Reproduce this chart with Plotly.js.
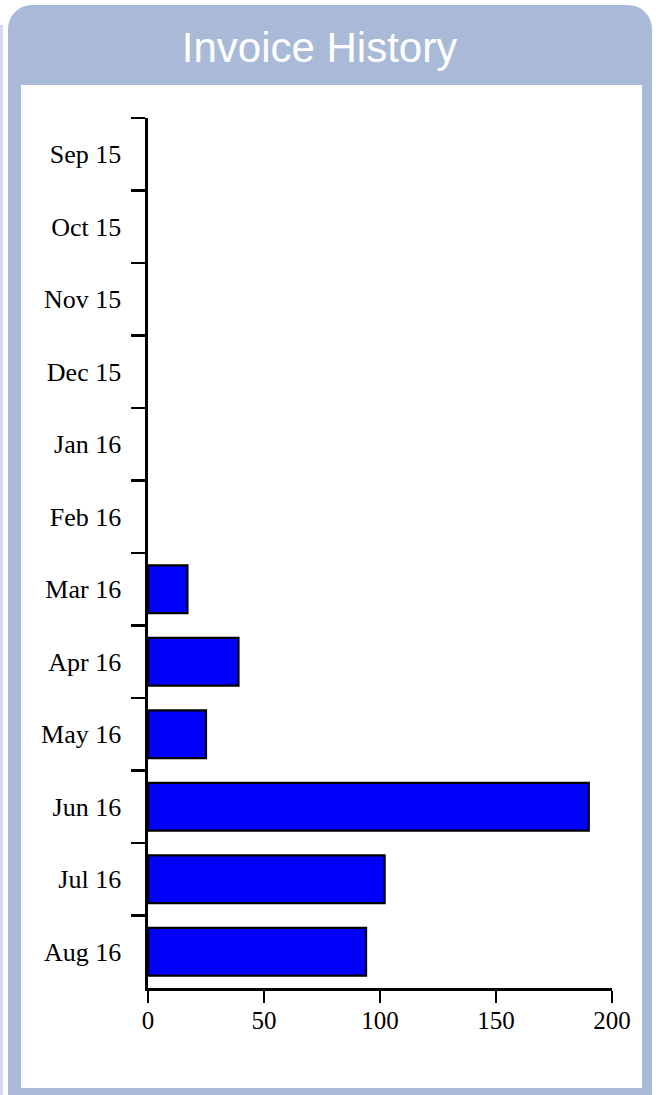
<!DOCTYPE html>
<html>
<head>
<meta charset="utf-8">
<script src="https://cdn.plot.ly/plotly-3.0.1.min.js"></script>
<style>
  html, body { margin: 0; padding: 0; width: 656px; height: 1095px; overflow: hidden; background: #ffffff; }
  #strip { position: absolute; left: 0px; top: 25px; width: 3px; height: 1070px; background: #d3dbeb; }
  #panel { position: absolute; left: 8px; top: 5px; width: 644px; height: 1090px; background: #a9bad8; border-radius: 24px 24px 0 0; }
  #inner { position: absolute; left: 21px; top: 85px; width: 621px; height: 1003px; background: #ffffff; }
  #chart { position: absolute; left: 0; top: 0; width: 656px; height: 1095px; }
</style>
</head>
<body>
<div id="strip"></div>
<div id="panel"></div>
<div id="inner"></div>
<div id="chart"></div>
<script>
// Data
const months = ['Sep 15', 'Oct 15', 'Nov 15', 'Dec 15', 'Jan 16', 'Feb 16',
                'Mar 16', 'Apr 16', 'May 16', 'Jun 16', 'Jul 16', 'Aug 16'];
const invoices = [0, 0, 0, 0, 0, 0, 17, 39, 25, 190, 102, 94];
const xTicks = [0, 50, 100, 150, 200];
const chartTitle = 'Invoice History';

const trace = {
  type: 'bar',
  orientation: 'h',
  y: months,
  x: invoices,
  marker: {
    color: '#0000ff',
    line: { color: '#000000', width: invoices.map(v => (v > 0 ? 2.2 : 0)) }
  },
  hoverinfo: 'none'
};

const layout = {
  width: 656,
  height: 1095,
  paper_bgcolor: 'rgba(0,0,0,0)',
  plot_bgcolor: 'rgba(0,0,0,0)',
  margin: { l: 148, r: 44, t: 118, b: 107 },
  showlegend: false,
  bargap: 0.34,
  title: {
    text: chartTitle,
    font: { family: 'Liberation Sans, Arial, sans-serif', size: 42, color: '#ffffff' },
    x: 0.487, xref: 'container', xanchor: 'center',
    y: 1 - 47 / 1095, yref: 'container', yanchor: 'middle'
  },
  xaxis: {
    range: [0, 200],
    tickmode: 'array',
    tickvals: xTicks,
    ticktext: xTicks.map(String),
    ticks: 'outside', ticklen: 12, tickwidth: 2.6, tickcolor: '#000000',
    showline: true, linewidth: 2.6, linecolor: '#000000',
    showgrid: false, zeroline: false,
    ticklabelstandoff: -4,
    tickfont: { family: 'Liberation Serif, Times New Roman, serif', size: 25, color: '#000000' }
  },
  yaxis: {
    type: 'category',
    categoryorder: 'array',
    categoryarray: months,
    autorange: 'reversed',
    tickson: 'boundaries',
    ticks: 'outside', ticklen: 14, tickwidth: 2.6, tickcolor: '#000000',
    showline: true, linewidth: 2.6, linecolor: '#000000',
    showgrid: false, zeroline: false,
    ticklabelstandoff: 19,
    tickfont: { family: 'Liberation Serif, Times New Roman, serif', size: 26, color: '#000000' }
  }
};

Plotly.newPlot('chart', [trace], layout, { staticPlot: true, displayModeBar: false });
</script>
</body>
</html>
